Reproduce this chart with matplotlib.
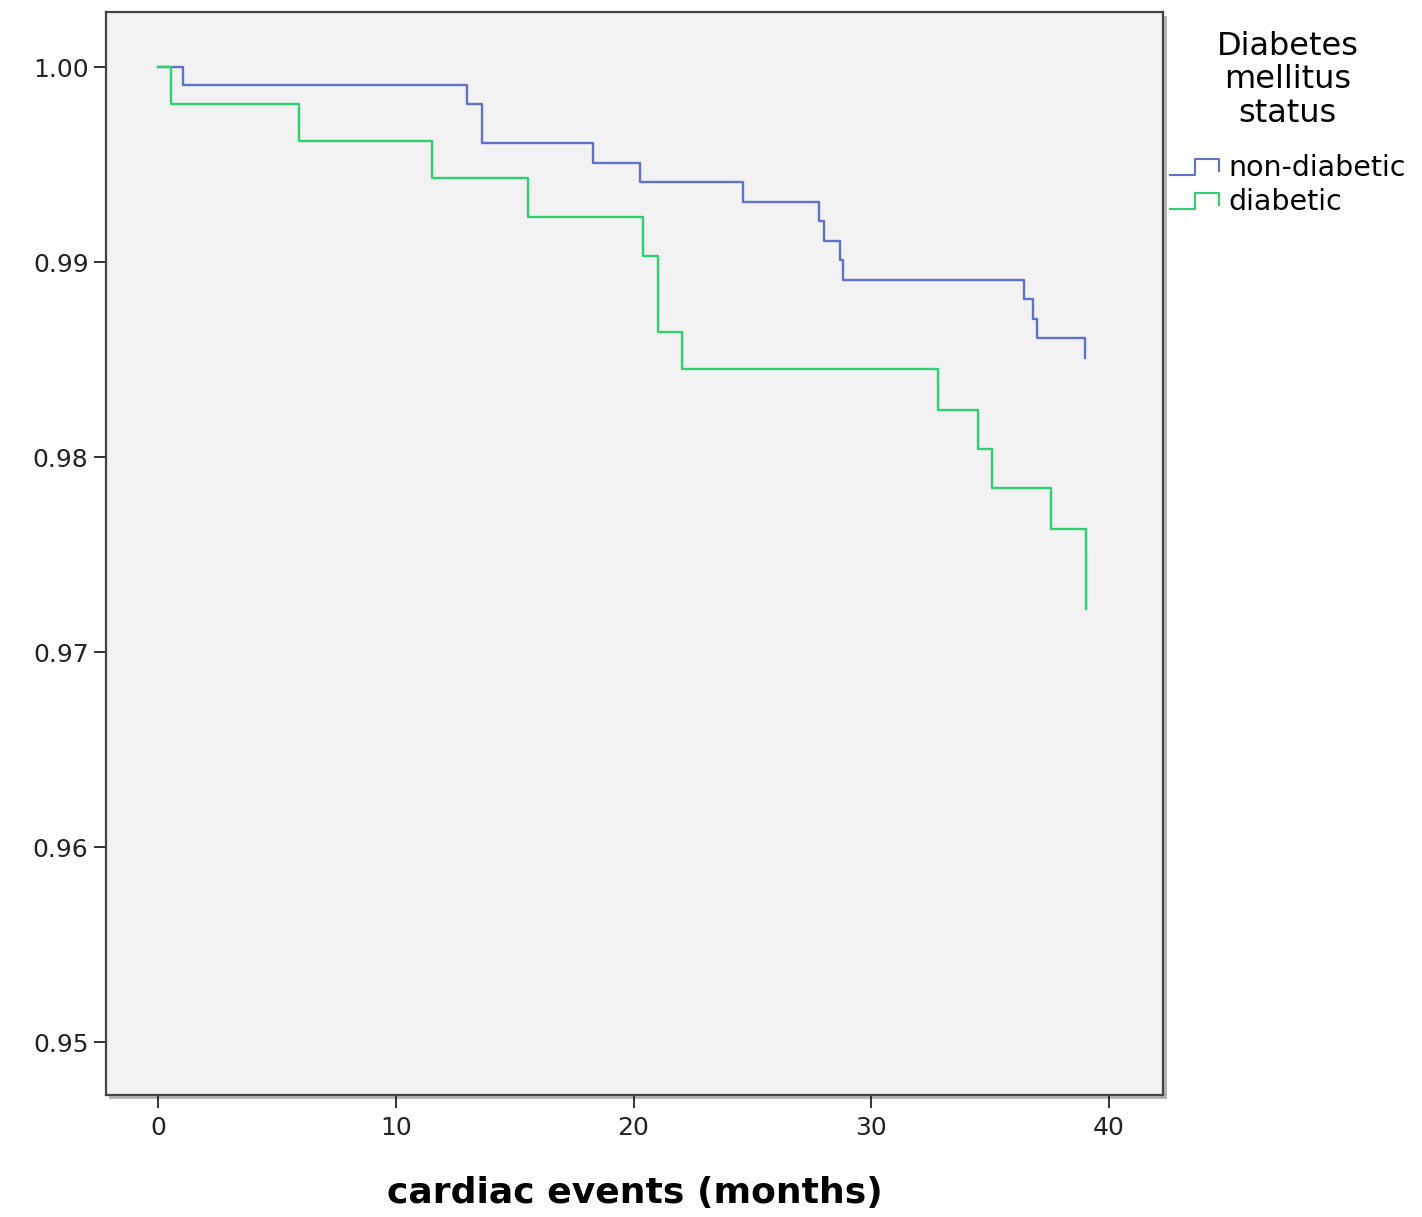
import matplotlib
matplotlib.use('Agg')
import matplotlib.pyplot as plt
from matplotlib.legend_handler import HandlerBase
from matplotlib.lines import Line2D
from matplotlib.patches import Rectangle

# Kaplan-Meier step data (time in months, survival)
nondiab_time = [0, 1.04, 13.0, 13.64, 18.28, 20.27, 24.62, 27.81, 28.03,
                28.69, 28.83, 36.44, 36.82, 36.95, 39.0, 39.0]
nondiab_surv = [1.000, 0.9991, 0.9981, 0.9961, 0.9951, 0.9941, 0.9931,
                0.9921, 0.9911, 0.9901, 0.9891, 0.9881, 0.9871, 0.9861,
                0.9851, 0.9851]
diab_time = [0, 0.55, 5.93, 11.51, 15.55, 20.41, 21.04, 22.05, 32.82,
             34.5, 35.06, 37.55, 39.03, 39.03]
diab_surv = [1.000, 0.9981, 0.9962, 0.9943, 0.9923, 0.9903, 0.9864,
             0.9845, 0.9824, 0.9804, 0.9784, 0.9763, 0.9722, 0.9722]

labels = ['non-diabetic', 'diabetic']
colors = ['#5f72c9', '#2fd16e']
xticks = [0, 10, 20, 30, 40]
yticks = [0.95, 0.96, 0.97, 0.98, 0.99, 1.00]


class StepHandler(HandlerBase):
    # legend handle drawn as a small step, like the SPSS output
    def create_artists(self, legend, orig_handle, xdescent, ydescent,
                       width, height, fontsize, trans):
        w, h = width, height
        xs = [-xdescent, 0.5 * w, 0.5 * w, w, w]
        ys = [0.05 * h, 0.05 * h, 0.85 * h, 0.85 * h, 0.25 * h]
        line = Line2D(xs, ys, color=orig_handle.get_color(), lw=1.5,
                      transform=trans)
        return [line]


fig = plt.figure(figsize=(14.22, 12.17), dpi=100)
rect = [0.0745, 0.1002, 0.7434, 0.8899]
# soft shadow behind the plot frame
fig.patches.append(Rectangle((rect[0] + 0.0025, rect[1] - 0.003),
                             rect[2], rect[3], transform=fig.transFigure,
                             facecolor='#b5b5b5', edgecolor='none',
                             zorder=-1))
ax = fig.add_axes(rect)
ax.set_facecolor('#f2f2f2')

handles = []
for t, s, lab, col in zip([nondiab_time, diab_time],
                          [nondiab_surv, diab_surv], labels, colors):
    h, = ax.step(t, s, where='post', color=col, lw=1.7, label=lab)
    handles.append(h)

ax.set_xlim(-2.19, 42.27)
ax.set_ylim(0.94728, 1.00282)
ax.set_xticks(xticks)
ax.set_yticks(yticks)
ax.set_yticklabels(['%.2f' % v for v in yticks])
ax.tick_params(axis='both', direction='out', length=9, width=1.3,
               labelsize=18, colors='#222222')
ax.tick_params(axis='x', pad=6)
for sp in ax.spines.values():
    sp.set_color('#444444')
    sp.set_linewidth(1.6)

ax.set_xlabel('cardiac events (months)', fontsize=26, fontweight='bold',
              labelpad=26)

leg = fig.legend(handles=handles, labels=labels,
                 handler_map={Line2D: StepHandler()},
                 title='Diabetes\nmellitus\nstatus', title_fontsize=23,
                 fontsize=20.5, loc='upper left',
                 bbox_to_anchor=(0.8145, 0.984), frameon=False,
                 handlelength=1.75, handletextpad=0.3, labelspacing=0.22,
                 borderaxespad=0)
leg.get_title().set_multialignment('center')
leg.get_title().set_linespacing(1.1)
leg._legend_box.sep = 18

fig.savefig('out.png', dpi=100)
